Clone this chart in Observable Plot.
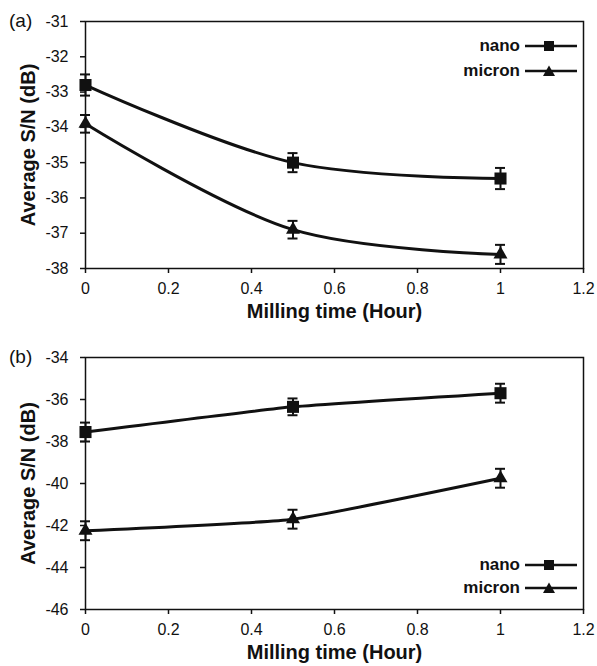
<!DOCTYPE html>
<html><head><meta charset="utf-8">
<script src="https://cdn.jsdelivr.net/npm/d3@7"></script>
<script src="https://cdn.jsdelivr.net/npm/@observablehq/plot@0.6"></script>
<style>
body{margin:0;background:#fff;font-family:"Liberation Sans",Arial,sans-serif;color:#111;}
.panel{position:relative;width:597px;}
.panel svg{display:block;}
.tag{position:absolute;left:9px;font-size:19px;line-height:1;}
.legrow{position:absolute;right:20px;height:24px;display:flex;align-items:center;font-size:17px;font-weight:bold;}
.legrow svg{margin-left:5px;}
</style>
</head><body>
<div id="root"></div>
<script>
// ---- data ----
const times = [0, 0.5, 1];
const xTicks = [0, 0.2, 0.4, 0.6, 0.8, 1, 1.2];
const xTitle = "Milling time (Hour)";
const yTitle = "Average S/N (dB)";
const seriesNames = ["nano", "micron"];

// panel (a)
const yTicksA = [-38, -37, -36, -35, -34, -33, -32, -31];
const nanoA = [-32.8, -35.0, -35.45];
const nanoAErr = [0.3, 0.27, 0.3];
const micronA = [-33.9, -36.9, -37.6];
const micronAErr = [0.25, 0.25, 0.27];

// panel (b)
const yTicksB = [-46, -44, -42, -40, -38, -36, -34];
const nanoB = [-37.55, -36.35, -35.7];
const nanoBErr = [0.45, 0.4, 0.45];
const micronB = [-42.25, -41.7, -39.75];
const micronBErr = [0.45, 0.45, 0.45];

const INK = "#111";

function rows(name, vals, errs) {
  return times.map((t, i) => ({series: name, x: t, y: vals[i], lo: vals[i] - errs[i], hi: vals[i] + errs[i]}));
}

function seriesMarks(data, symbol, r, curve) {
  return [
    Plot.line(data, {x: "x", y: "y", ...curve, stroke: INK, strokeWidth: 3}),
    Plot.ruleX(data, {x: "x", y1: "lo", y2: "hi", stroke: INK, strokeWidth: 2}),
    Plot.ruleY(data, {y: "lo", x1: "x", x2: "x", insetLeft: -5, insetRight: -5, stroke: INK, strokeWidth: 2}),
    Plot.ruleY(data, {y: "hi", x1: "x", x2: "x", insetLeft: -5, insetRight: -5, stroke: INK, strokeWidth: 2}),
    Plot.dot(data, {x: "x", y: "y", symbol, r, fill: INK, stroke: "none"})
  ];
}

function legendSymbol(kind) {
  const ns = "http://www.w3.org/2000/svg";
  const s = document.createElementNS(ns, "svg");
  s.setAttribute("width", 52); s.setAttribute("height", 14);
  const l = document.createElementNS(ns, "line");
  l.setAttribute("x1", 0); l.setAttribute("x2", 52); l.setAttribute("y1", 7); l.setAttribute("y2", 7);
  l.setAttribute("stroke", INK); l.setAttribute("stroke-width", 2.5);
  s.appendChild(l);
  if (kind === "square") {
    const r = document.createElementNS(ns, "rect");
    r.setAttribute("x", 19); r.setAttribute("y", 2); r.setAttribute("width", 10); r.setAttribute("height", 10);
    r.setAttribute("fill", INK); s.appendChild(r);
  } else {
    const p = document.createElementNS(ns, "path");
    p.setAttribute("d", "M24,1.5 L30,12 L18,12 Z");
    p.setAttribute("fill", INK); s.appendChild(p);
  }
  return s;
}

function makePanel({tag, height, marginTop, marginBottom, yDomain, yTicks, nano, micron, legendTops, curve}) {
  const wrap = document.createElement("div");
  wrap.className = "panel";
  wrap.style.height = height + "px";
  const chart = Plot.plot({
    width: 597,
    height,
    marginLeft: 85,
    marginRight: 14,
    marginTop,
    marginBottom,
    style: {fontFamily: "'Liberation Sans', Arial, sans-serif", color: INK, background: "#fff", overflow: "visible"},
    x: {domain: [0, 1.2]},
    y: {domain: yDomain},
    marks: [
      Plot.frame({stroke: INK, strokeWidth: 1.5}),
      Plot.axisX({ticks: xTicks, tickFormat: d => String(d), tickSize: 5, tickPadding: 9, fontSize: 16, label: null, strokeWidth: 1.5}),
      Plot.axisY({ticks: yTicks, tickFormat: d => String(d), tickSize: 5, tickPadding: 12, fontSize: 16, label: null, strokeWidth: 1.5}),
      Plot.text([xTitle], {text: d => d, frameAnchor: "bottom", textAnchor: "middle", dy: 49, lineAnchor: "bottom", fontSize: 20, fontWeight: "bold", fill: INK}),
      Plot.text([yTitle], {text: d => d, frameAnchor: "left", textAnchor: "middle", rotate: -90, dx: -65, lineAnchor: "top", fontSize: 20, fontWeight: "bold", fill: INK}),
      ...seriesMarks(nano, "square", 6.8, curve),
      ...seriesMarks(micron, "triangle", 5.2, curve)
    ]
  });
  wrap.appendChild(chart);
  const t = document.createElement("div");
  t.className = "tag";
  t.textContent = tag;
  t.style.top = (marginTop - 10) + "px";
  wrap.appendChild(t);
  seriesNames.forEach((name, i) => {
    const row = document.createElement("div");
    row.className = "legrow";
    row.style.top = (legendTops[i] - 12) + "px";
    const sp = document.createElement("span");
    sp.textContent = name;
    row.appendChild(sp);
    row.appendChild(legendSymbol(i === 0 ? "square" : "triangle"));
    wrap.appendChild(row);
  });
  return wrap;
}

const root = document.getElementById("root");
root.appendChild(makePanel({
  tag: "(a)", height: 330, marginTop: 21, marginBottom: 62,
  yDomain: [-38, -31], yTicks: yTicksA,
  nano: rows("nano", nanoA, nanoAErr), micron: rows("micron", micronA, micronAErr),
  legendTops: [46, 70.5], curve: {curve: "catmull-rom"}
}));
root.appendChild(makePanel({
  tag: "(b)", height: 336, marginTop: 27, marginBottom: 57,
  yDomain: [-46, -34], yTicks: yTicksB,
  nano: rows("nano", nanoB, nanoBErr), micron: rows("micron", micronB, micronBErr),
  legendTops: [234.5, 258], curve: {curve: "cardinal", tension: 0.6}
}));
</script>
</body></html>
